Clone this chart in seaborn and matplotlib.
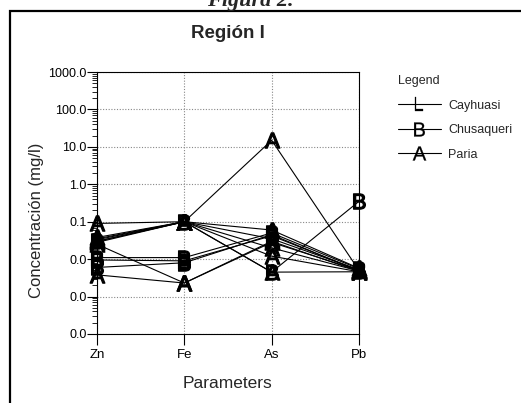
import numpy as np
import pandas as pd
import matplotlib
matplotlib.use("Agg")
import matplotlib.pyplot as plt
from matplotlib.lines import Line2D
from matplotlib.patches import Rectangle
from matplotlib.ticker import LogLocator, NullFormatter, FixedLocator, FixedFormatter
import seaborn as sns

# ---------------- data ----------------
parameters = ["Zn", "Fe", "As", "Pb"]

paria_1 = [0.090, 0.100, 15.0, 0.0050]
paria_2 = [0.035, 0.100, 0.060, 0.0057]
paria_3 = [0.030, 0.100, 0.035, 0.0052]
paria_4 = [0.028, 0.100, 0.020, 0.0048]
paria_5 = [0.033, 0.100, 0.012, 0.0046]
paria_6 = [0.038, 0.100, 0.0045, 0.0046]
paria_7 = [0.025, 0.0023, 0.030, 0.0047]
paria_8 = [0.0038, 0.0023, 0.028, 0.0050]

chusaqueri_1 = [0.011, 0.011, 0.050, 0.0055]
chusaqueri_2 = [0.0095, 0.0090, 0.042, 0.0050]
chusaqueri_3 = [0.0060, 0.0080, 0.045, 0.0048]
chusaqueri_4 = [0.030, 0.100, 0.0045, 0.35]

legend_labels = ["Cayhuasi", "Chusaqueri", "Paria"]
legend_letters = ["L", "B", "A"]

y_tick_values = [0.0001, 0.001, 0.01, 0.1, 1.0, 10.0, 100.0, 1000.0]
y_tick_labels = ["0.0", "0.0", "0.0", "0.1", "1.0", "10.0", "100.0", "1000.0"]

samples = {
    ("Chusaqueri", "C1"): chusaqueri_1, ("Chusaqueri", "C2"): chusaqueri_2,
    ("Chusaqueri", "C3"): chusaqueri_3, ("Chusaqueri", "C4"): chusaqueri_4,
    ("Paria", "P1"): paria_1, ("Paria", "P2"): paria_2, ("Paria", "P3"): paria_3,
    ("Paria", "P4"): paria_4, ("Paria", "P5"): paria_5, ("Paria", "P6"): paria_6,
    ("Paria", "P7"): paria_7, ("Paria", "P8"): paria_8,
}
rows = []
for (region, sid), vals in samples.items():
    for p, v in zip(parameters, vals):
        rows.append({"region": region, "sample": sid, "parameter": p, "value": v})
df = pd.DataFrame(rows)

# ---------------- style ----------------
sns.set_style("white")
plt.rcParams["font.family"] = ["Liberation Sans", "DejaVu Sans"]
plt.rcParams["mathtext.fontset"] = "custom"
plt.rcParams["mathtext.rm"] = "Liberation Sans"
plt.rcParams["mathtext.it"] = "Liberation Sans"
plt.rcParams["mathtext.bf"] = "Liberation Sans:bold"
plt.rcParams["mathtext.default"] = "regular"

W, H = 521, 403
fig = plt.figure(figsize=(W / 100, H / 100), dpi=100)
ax = fig.add_axes([97 / W, 1 - 334 / H, (359 - 97) / W, (334 - 72) / H])

markers = {"Chusaqueri": "$B$", "Paria": "$A$"}
for region in ["Chusaqueri", "Paria"]:
    sub = df[df["region"] == region]
    sns.lineplot(data=sub, x="parameter", y="value", units="sample", estimator=None,
                 style="region", markers={region: markers[region]},
                 dashes=False, color="black", linewidth=0.8, markersize=11,
                 markeredgewidth=0.9, markeredgecolor="black", markerfacecolor="black",
                 legend=False, sort=False, ax=ax, clip_on=False)

ax.set_yscale("log")
ax.set_xlim(0, 3)
ax.set_ylim(1e-4, 1e3)
ax.yaxis.set_major_locator(FixedLocator(y_tick_values))
ax.yaxis.set_major_formatter(FixedFormatter(y_tick_labels))
ax.yaxis.set_minor_locator(LogLocator(base=10, subs=np.arange(2, 10), numticks=30))
ax.yaxis.set_minor_formatter(NullFormatter())
ax.set_xticks(range(len(parameters)))
ax.set_xticklabels(parameters)

ax.grid(True, which="major", color="#888888", linestyle=(0, (1, 1.5)), linewidth=0.8)
ax.set_axisbelow(True)
for s in ax.spines.values():
    s.set_color("black")
    s.set_linewidth(0.8)
ax.tick_params(axis="y", which="major", direction="out", length=7, width=0.8,
               labelsize=9, pad=0.5, left=True, colors="black")
ax.tick_params(axis="y", which="minor", direction="out", length=3.5, width=0.6,
               left=True, colors="black")
ax.tick_params(axis="x", which="major", direction="out", length=8, width=0.8,
               labelsize=9.5, pad=3, bottom=True, colors="black")

ax.set_xlabel("Parameters", fontsize=12.5)
ax.set_ylabel("Concentración (mg/l)", fontsize=12)
ax.xaxis.set_label_coords(0.5, (334 - 383) / 262)
ax.xaxis.label.set_va("center")
ax.yaxis.set_label_coords((37 - 97) / 262, (334 - 220) / 262)
ax.yaxis.label.set_va("center")
ax.yaxis.label.set_ha("center")

# legend
handles = [Line2D([], [], color="black", linewidth=0.8, marker=f"${l}$", markersize=10,
                  markeredgewidth=0.2, markerfacecolor="black", markeredgecolor="black")
           for l in legend_letters]
leg = fig.legend(handles, legend_labels, title="Legend", loc="upper left",
                 bbox_to_anchor=(398 / W, 1 - 75 / H), frameon=False, fontsize=9,
                 title_fontsize=9, handlelength=3.4, handletextpad=0.6,
                 labelspacing=1.0, borderpad=0, borderaxespad=0, alignment="left")
leg._legend_box.sep = 9

# title, caption, frame
fig.text(228 / W, 1 - 34 / H, "Región I", ha="center", va="center",
         fontsize=13.5, fontweight="bold")
fig.text(250 / W, 1 - 6 / H, "Figura 2.", ha="center", va="baseline",
         fontsize=16, fontweight="bold", fontstyle="italic",
         family=["Liberation Serif", "DejaVu Serif"])
fig.add_artist(Rectangle((9.5 / W, -0.1), 1.2, (1 - 11 / H) + 0.1,
                         transform=fig.transFigure, fill=False,
                         edgecolor="black", linewidth=1.6, clip_on=False))

fig.savefig("out.png", dpi=100)
